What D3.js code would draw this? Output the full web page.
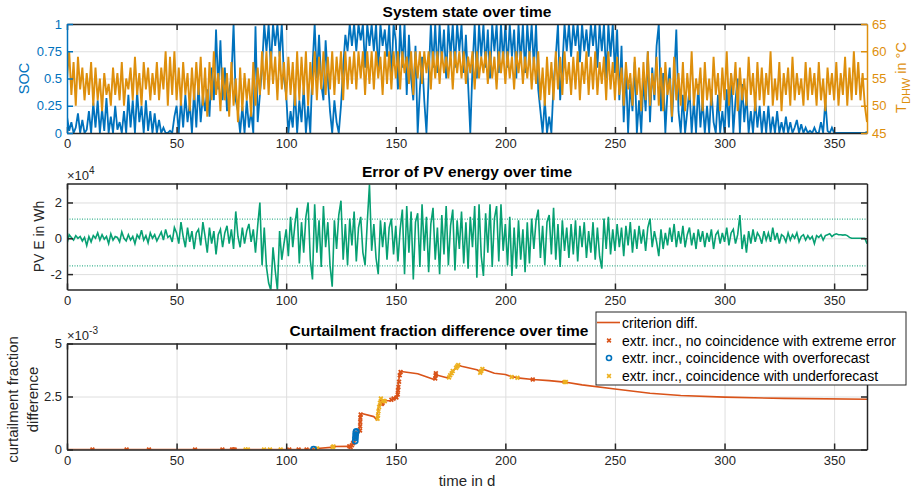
<!DOCTYPE html>
<html>
<head>
<meta charset="utf-8">
<script src="https://cdn.jsdelivr.net/npm/d3@7"></script>
<style>
  body { margin: 0; background: #fff; }
  svg { font-family: "Liberation Sans", Arial, sans-serif; }
</style>
</head>
<body>
<svg id="chart" width="918" height="493"></svg>
<script>
// daily samples, day 0..365
const socValues = [
  0.15,0.02,0.1,0,0.05,0.18,0,0.12,0,0.03,
  0.2,0,0.28,0.05,0.3,0,0.22,0.02,0.32,0,
  0.15,0,0.25,0.03,0.1,0,0.2,0,0.35,0.05,
  0.3,0,0.38,0.1,0.25,0,0.3,0.02,0.2,0,
  0.18,0,0.12,0,0.05,0,0,0.02,0,0.15,
  0.25,0,0.3,0.05,0.35,0.1,0.28,0,0.4,0.05,
  0.45,0.1,0.35,0.2,0.4,0.15,0.6,0.3,0.95,0.4,
  0.85,0.3,0.6,0.2,0.4,0.5,1,0.3,0.2,0,
  0.25,0,0.3,0.05,0.2,0,0.98,0.1,0.35,0.6,
  1,0.75,1,0.6,1,0.8,1,0.7,1,0.5,
  0.35,0,0.2,0.05,0.4,0,0.3,0.1,0.42,0,
  0.25,0,0.6,1,0.5,0.9,0.45,0.3,0.85,0.5,
  0.2,0,0.3,0.1,0,0.25,0.6,0.9,0.75,1,
  0.8,1,0.75,1,0.85,1,0.6,1,0.8,1,
  0.75,1,0.55,1,0.8,0.95,0.7,1,0.5,1,
  0.85,0.4,1,0.6,1,0.35,0.9,0.5,0.3,0.8,
  0,0.4,0.7,0.3,0,0.5,1,0.6,1,0.55,
  1,0.65,0.95,0.5,1,0.7,1,0.6,1,0.75,
  1,0.55,0.9,0.45,0,0.6,1,0.5,1,0.7,
  1,0.6,0.95,0.5,1,0.75,1,0.55,1,0.65,
  1,0.6,1,0.7,0.95,0.5,1,0.65,1,0.55,
  1,0.7,1,0.6,1,0.4,0.2,0,0.3,0,
  0.15,0,0.45,0.7,1,0.3,0.6,1,0.75,1,
  0.7,1,0.8,1,0.65,1,0.75,0.95,0.7,1,
  0.8,1,0.6,1,0.75,1,0.5,1,0.7,1,
  0.55,0.95,0.3,0.8,0.1,0.6,0,0.45,0.2,0.65,
  0,0.3,0,0.5,0.2,0.75,0.1,0.6,0.3,0.8,
  1,0.2,0.55,0,0.4,0.6,0.1,0.5,0.95,0.2,
  0,0.35,0,0.2,0.4,0,0.3,0,0.45,0.05,
  0.3,0,0.25,0,0.4,0.1,0,0.35,0,0.2,
  0,0.4,0.05,0.55,0,0.3,0.5,0,0.45,0.1,
  0.35,0,0.2,0,0.3,0.05,0.25,0,0.2,0,
  0.25,0,0.15,0,0.2,0,0.1,0,0.15,0,
  0.1,0,0.05,0.12,0,0.08,0,0.05,0,0.02,
  0,0.05,0,0,0.1,0,0.3,0.02,0,0.05,
  0,0,0,0,0,0,0,0,0,0,
  0,0,0,0,0,0.01
];

const tdhwValues = [
  55,60,52,58,50,59,53,57,51,56,
  52,58,50,57,51,55,49,56,52,54,
  50,57,52,56,51,58,50,55,53,57,
  51,59,52,56,50,58,53,57,51,56,
  52,58,51,57,53,60,50,59,52,60,
  51,57,50,58,52,56,49,57,51,58,
  52,59,50,57,48,58,51,60,52,56,
  49,57,51,56,48,58,50,55,47,57,
  49,56,51,55,48,58,50,57,52,60,
  53,60,52,60,54,59,51,60,53,58,
  51,59,52,58,50,60,51,59,52,60,
  50,58,52,60,51,59,53,60,52,59,
  53,60,52,59,54,60,51,60,53,59,
  54,60,53,60,55,60,52,60,54,60,
  53,60,55,59,52,60,54,60,53,60,
  55,60,53,60,56,59,54,60,52,60,
  55,60,54,60,56,60,53,60,55,60,
  54,60,56,59,55,60,53,60,56,60,
  55,60,54,59,56,60,53,60,55,59,
  56,60,54,60,55,59,53,60,56,60,
  54,60,55,59,53,60,56,60,54,59,
  55,60,53,59,54,60,51,57,50,59,
  52,58,51,60,53,59,52,60,54,58,
  52,59,53,60,51,58,54,60,52,59,
  53,60,52,58,54,59,51,60,53,58,
  51,59,52,57,50,58,53,56,50,59,
  52,57,49,58,51,60,50,56,52,59,
  50,57,49,58,52,55,48,59,51,56,
  50,58,49,56,51,60,50,55,52,57,
  49,58,51,55,50,59,52,56,49,57,
  51,60,50,56,52,58,49,57,51,55,
  50,59,52,56,49,58,51,57,50,56,
  52,60,50,55,51,58,49,56,52,57,
  50,59,51,56,52,55,50,58,51,57,
  52,56,50,58,51,55,49,57,52,56,
  51,58,50,56,52,59,50,57,51,60,
  52,58,51,56,50,47
];

// PV energy error in units of 1e4 Wh
const pvErrorValues = [
  -0.3,0.2,0.05,-0.1,0.15,0,0.1,-0.15,0.05,-0.4,
  0.1,-0.2,0.15,0,0.3,-0.1,0.2,-0.05,0.1,-0.3,
  0.25,-0.1,0.1,0.05,-0.2,0.35,0,-0.15,0.2,-0.1,
  0.1,-0.3,0.2,0,0.45,-0.1,0.15,-0.25,0.3,0,
  0.2,-0.15,0.1,0.35,-0.1,0.5,0.05,0.15,-0.2,0.6,
  0.3,-0.3,0.9,0.1,-0.5,0.6,-0.2,0.4,-0.6,0.3,
  0.5,-0.4,0.9,0.1,-0.8,0.6,-0.3,0.4,-0.9,0.2,
  0.5,-0.5,0.3,0.7,-0.3,0.5,-0.6,1.5,0.1,-0.5,
  0.6,-0.3,0.4,0.8,-0.2,0.5,-0.8,0.7,2.0,-1.5,
  0.6,-1.6,-2.5,-2.9,-0.5,-1.8,-2.9,0.4,-1.2,-0.3,
  0.5,-1.0,1.2,-0.5,0.8,1.7,-1.4,0.9,-0.8,1.2,
  2.0,-1.2,-2.3,1.9,-0.8,1.0,-1.6,1.8,-0.5,0.9,
  -1.5,-2.7,1.0,-0.6,1.3,2.1,-1.2,0.8,-1.5,1.1,
  -0.4,1.5,-1.3,0.6,1.2,-0.8,-1.5,0.9,3.0,-0.7,
  0.8,-1.1,-2.0,1.0,-0.5,0.9,-1.2,0.6,1.1,-0.9,
  0.7,-1.3,0.5,1.6,-2.0,1.8,-0.8,1.5,-2.3,0.9,
  1.4,-1.6,1.9,-0.7,1.2,-1.9,0.8,1.7,-1.2,0.6,
  -2.0,1.3,-0.9,1.8,-1.5,0.7,1.6,-1.8,1.0,-0.6,
  1.5,-1.4,0.9,-1.7,1.2,-0.5,1.8,-2.2,1.9,-1.0,
  -2.1,1.4,-0.8,1.9,-1.6,1.1,1.8,-1.3,1.9,-0.7,
  0.8,-1.5,1.2,-2.1,0.6,-1.7,1.0,-1.2,0.5,-1.9,
  0.9,-1.4,1.1,-0.6,1.0,1.6,-1.1,0.7,-1.5,0.9,
  1.3,-0.9,1.7,-1.2,0.8,-1.6,1.0,-0.7,0.6,-1.1,
  0.8,-0.9,1.0,-1.3,0.7,-0.5,0.9,-1.1,0.4,-0.8,
  0.9,-1.2,0.6,-1.0,-1.7,1.1,-0.6,1.2,-0.9,0.5,
  -0.7,0.8,-0.5,0.6,-1.0,0.7,-0.4,0.9,-0.8,0.5,
  -0.6,0.7,-0.3,0.5,-0.7,0.6,1.1,-0.5,0.4,-0.2,
  -1.0,0.5,-0.6,0.3,-0.4,0.6,-0.2,0.8,-0.5,0.4,
  -0.3,0.7,-0.5,0.2,0.6,-0.4,0.3,-0.6,0.5,-0.2,
  0.4,-0.5,0.3,-0.2,0.5,-0.6,0.2,0.4,-0.3,0.3,
  -0.2,0.6,-0.4,0.3,0.5,-0.3,0.2,1.3,-0.6,0.2,
  -0.8,0.4,-0.3,0.5,-0.2,0.3,0.1,-0.3,0.4,-0.1,
  0.3,-0.2,0.6,-0.1,0.3,-0.3,0.2,0.1,-0.2,0.3,
  -0.1,0.2,0,0.3,-0.2,0.1,0.2,-0.1,0.15,-0.05,
  0.1,-0.3,0.15,0.05,0.2,-0.1,0.15,0.2,0.25,0.1,
  0.2,0.25,0.2,0.2,0.18,0.2,0.15,0.05,0,0,
  0,0,0,0,0,-0.3
];
const pvThresholds = [1.07, -1.54];

// curtailment fraction difference, units of 1e-3
const critDays = [0,110,112.5,114,120.5,121.2,128.5,129,130.5,131.3,131.8,132.6,133.4,133.8,134.5,140,141.4,141.9,143.2,143.6,144.5,147.5,150.5,151,151.8,152.5,160,167.5,168.2,169,173.8,175,176,177.5,178.5,180,187,189,189.6,195,200,202.5,205.5,212.5,220,227,235,250,266,280,300,327,365];
const critValues = [0,0,0.03,0.05,0.1,0.14,0.15,0.1,0.3,0.35,0.85,0.75,0.8,1.6,1.7,1.55,1.4,1.9,2.4,2.15,2.3,2.3,2.45,2.95,3.6,3.68,3.57,3.3,3.6,3.5,3.37,3.55,3.7,3.85,3.98,3.93,3.76,3.66,3.8,3.6,3.54,3.45,3.38,3.3,3.25,3.18,3.05,2.85,2.65,2.55,2.47,2.41,2.37];

const noCoincidenceDays = [11.6,27.2,37.4,58.4,70.9,75.3,75.9,76.5,101.4,105.7,109.3,128.8,129.4,130,130.5,133.7,133.75,133.8,133.85,134,143.6,144,148,149,150.3,150.9,151,151.2,151.5,151.8,152.2,168,168.2,168.3,212.5];
const noCoincidenceValues = [0,0,0,0,0,0,0,0,0,0,0,0.15,0.12,0.2,0.3,0.9,1.1,1.3,1.5,1.65,2.15,2.2,2.35,2.4,2.45,2.6,2.8,2.95,3.2,3.5,3.65,3.35,3.5,3.6,3.3];
const overDays = [112.5,131.5,131.6,131.7,131.8,132];
const overValues = [0.02,0.4,0.55,0.7,0.82,0.85];
const underDays = [81.5,82.5,89.9,92.6,97.5,113.5,114.2,121.2,121.6,141.7,141.9,142.1,142.4,142.8,143.2,144.5,145,174.3,174.8,175.5,176,177.5,178,178.5,188.5,189,189.5,202.9,205.5,227,227.6];
const underValues = [0,0,0,0,0,0.04,0.05,0.12,0.14,1.45,1.6,1.8,2.0,2.2,2.4,2.3,2.28,3.4,3.5,3.6,3.7,3.85,3.92,3.98,3.62,3.7,3.8,3.42,3.38,3.18,3.18];

const xTicks = [0, 50, 100, 150, 200, 250, 300, 350];
const socTicks = [0, 0.25, 0.5, 0.75, 1];
const tdhwTicks = [45, 50, 55, 60, 65];
const pvTicks = [-2, 0, 2];
const critTicks = [0, 2.5, 5];

const legendLabels = [
  'criterion diff.',
  'extr. incr., no coincidence with extreme error',
  'extr. incr., coincidence with overforecast',
  'extr. incr., coincidence with underforecast',
];

const BLUE = '#0072BD', ORANGE = '#DE8F0C', GREEN = '#07A073',
      RED = '#D95319', YELLOW = '#EDB120', INK = '#262626', GRID = '#dedede';

const svg = d3.select('#chart');
const x = d3.scaleLinear().domain([0, 365]).range([67, 867]);
const days = d3.range(0, 366);

const panels = [
  { top: 24, bottom: 133 },
  { top: 183.5, bottom: 289.5 },
  { top: 343.5, bottom: 449.5 },
];

const ySoc = d3.scaleLinear().domain([0, 1]).range([panels[0].bottom, panels[0].top]);
const yTdhw = d3.scaleLinear().domain([45, 65]).range([panels[0].bottom, panels[0].top]);
const yPv = d3.scaleLinear().domain([-2.86, 3.06]).range([panels[1].bottom, panels[1].top]);
const yCrit = d3.scaleLinear().domain([0, 5]).range([panels[2].bottom, panels[2].top]);

const TICK_FONT = 13;

// grid lines behind data
function drawGrid(p, y, yTicks) {
  const h = p.bottom - p.top;
  const gx = svg.append('g')
    .attr('transform', `translate(0,${p.bottom})`)
    .call(d3.axisBottom(x).tickValues(xTicks).tickSize(-h).tickFormat(''));
  const gy = svg.append('g')
    .attr('transform', `translate(${x(0)},0)`)
    .call(d3.axisLeft(y).tickValues(yTicks).tickSize(-800).tickFormat(''));
  [gx, gy].forEach(g => {
    g.select('.domain').remove();
    g.selectAll('.tick line').attr('stroke', GRID).attr('stroke-width', 1);
  });
}

function styleAxis(g, color) {
  g.select('.domain').attr('stroke', color).attr('stroke-width', 1.5);
  g.selectAll('.tick line').attr('stroke', color).attr('stroke-width', 1.5);
  g.selectAll('.tick text').attr('fill', color).attr('font-size', TICK_FONT)
    .attr('font-family', '"Liberation Sans", Arial, sans-serif');
}

function drawFrame(p, y, yTicks, fmt, leftColor, right) {
  const gb = svg.append('g').attr('transform', `translate(0,${p.bottom})`)
    .call(d3.axisBottom(x).tickValues(xTicks).tickSize(-6).tickSizeOuter(0).tickPadding(6));
  styleAxis(gb, INK);
  const gt = svg.append('g').attr('transform', `translate(0,${p.top})`)
    .call(d3.axisTop(x).tickValues(xTicks).tickSize(-6).tickSizeOuter(0).tickFormat(''));
  styleAxis(gt, INK);
  const gl = svg.append('g').attr('transform', `translate(${x(0)},0)`)
    .call(d3.axisLeft(y).tickValues(yTicks).tickSize(-6).tickSizeOuter(0).tickPadding(5).tickFormat(fmt));
  styleAxis(gl, leftColor);
  if (right) {
    const gr = svg.append('g').attr('transform', `translate(${x(365)},0)`)
      .call(d3.axisRight(right.scale).tickValues(right.ticks).tickSize(-6).tickSizeOuter(0).tickPadding(5));
    styleAxis(gr, right.color);
  } else {
    const gr = svg.append('g').attr('transform', `translate(${x(365)},0)`)
      .call(d3.axisRight(y).tickValues(yTicks).tickSize(-6).tickSizeOuter(0).tickFormat(''));
    styleAxis(gr, INK);
  }
}

function clipFor(id, p) {
  svg.append('clipPath').attr('id', id).append('rect')
    .attr('x', x(0)).attr('y', p.top).attr('width', x(365) - x(0)).attr('height', p.bottom - p.top);
  return `url(#${id})`;
}

function title(text, cx, baseline) {
  svg.append('text').attr('x', cx).attr('y', baseline).attr('text-anchor', 'middle')
    .attr('font-size', 15.5).attr('font-weight', 'bold').attr('fill', '#000').text(text);
}

function exponent(base, exp, yBase) {
  const t = svg.append('text').attr('x', x(0)).attr('y', yBase).attr('font-size', TICK_FONT).attr('fill', INK);
  t.append('tspan').text('\u00d7' + base);
  t.append('tspan').attr('dy', -6).attr('font-size', 10).text(exp);
}

const fmtPlain = d => String(d);

// ---------- panel 1: system state ----------
const p1 = panels[0];
drawGrid(p1, ySoc, socTicks);
const clip1 = clipFor('clip1', p1);
svg.append('path').datum(days)
  .attr('clip-path', clip1).attr('fill', 'none').attr('stroke', BLUE).attr('stroke-width', 1.8)
  .attr('d', d3.line().x(d => x(d)).y(d => ySoc(socValues[d])));
svg.append('path').datum(days)
  .attr('clip-path', clip1).attr('fill', 'none').attr('stroke', ORANGE).attr('stroke-width', 1.9)
  .attr('d', d3.line().x(d => x(d)).y(d => yTdhw(tdhwValues[d])));
drawFrame(p1, ySoc, socTicks, fmtPlain, BLUE, { scale: yTdhw, ticks: tdhwTicks, color: ORANGE });
title('System state over time', 467, 17);
svg.append('text').attr('transform', `translate(29,${(p1.top + p1.bottom) / 2}) rotate(-90)`)
  .attr('text-anchor', 'middle').attr('font-size', 14.5).attr('fill', BLUE).text('SOC');
const tl = svg.append('text').attr('transform', `translate(906,${(p1.top + p1.bottom) / 2 - 1}) rotate(-90)`)
  .attr('text-anchor', 'middle').attr('font-size', 14.5).attr('fill', ORANGE);
tl.append('tspan').text('T');
tl.append('tspan').attr('dy', 4).attr('font-size', 11).text('DHW');
tl.append('tspan').attr('dy', -4).text(' in \u00b0C');

// ---------- panel 2: PV error ----------
const p2 = panels[1];
drawGrid(p2, yPv, pvTicks);
const clip2 = clipFor('clip2', p2);
svg.append('g').selectAll('line.thr').data(pvThresholds).join('line')
  .attr('x1', x(0)).attr('x2', x(365)).attr('y1', d => yPv(d)).attr('y2', d => yPv(d))
  .attr('stroke', GREEN).attr('stroke-opacity', 0.8).attr('stroke-width', 1.2).attr('stroke-dasharray', '1,1.5');
svg.append('path').datum(days)
  .attr('clip-path', clip2).attr('fill', 'none').attr('stroke', GREEN).attr('stroke-width', 1.6)
  .attr('d', d3.line().x(d => x(d)).y(d => yPv(pvErrorValues[d])));
drawFrame(p2, yPv, pvTicks, fmtPlain, INK, null);
title('Error of PV energy over time', 467, 176.5);
exponent('10', '4', 180);
svg.append('text').attr('transform', `translate(44,${(p2.top + p2.bottom) / 2}) rotate(-90)`)
  .attr('text-anchor', 'middle').attr('font-size', 14).attr('fill', INK).text('PV E in Wh');

// ---------- panel 3: curtailment ----------
const p3 = panels[2];
drawGrid(p3, yCrit, critTicks);
const clip3 = clipFor('clip3', p3);
svg.append('path').datum(critDays)
  .attr('clip-path', clip3).attr('fill', 'none').attr('stroke', RED).attr('stroke-width', 1.6)
  .attr('stroke-linejoin', 'round')
  .attr('d', d3.line().x(d => x(d)).y((d, i) => yCrit(critValues[i])));

const xMark = d3.symbol().type(d3.symbolX).size(11);
const oMark = d3.symbol().type(d3.symbolCircle).size(20);
const markerSets = [
  { days: noCoincidenceDays, vals: noCoincidenceValues, sym: xMark, color: RED },
  { days: underDays, vals: underValues, sym: xMark, color: YELLOW },
  { days: overDays, vals: overValues, sym: oMark, color: BLUE },
];
markerSets.forEach(s => {
  svg.append('g').attr('clip-path', clip3).selectAll('path').data(s.days).join('path')
    .attr('transform', (d, i) => `translate(${x(d)},${yCrit(s.vals[i])})`)
    .attr('d', s.sym).attr('fill', 'none').attr('stroke', s.color).attr('stroke-width', 1.8);
});
drawFrame(p3, yCrit, critTicks, fmtPlain, INK, null);
title('Curtailment fraction difference over time', 439, 335.5);
exponent('10', '-3', 340);
const yl3 = svg.append('text').attr('transform', `translate(0,${(p3.top + p3.bottom) / 2 + 3}) rotate(-90)`)
  .attr('text-anchor', 'middle').attr('font-size', 15).attr('fill', INK);
yl3.append('tspan').attr('x', 0).attr('y', 18).text('curtailment fraction');
yl3.append('tspan').attr('x', 0).attr('y', 38).text('difference');
svg.append('text').attr('x', 467).attr('y', 486).attr('text-anchor', 'middle')
  .attr('font-size', 15).attr('fill', INK).text('time in d');

// ---------- legend ----------
const lg = svg.append('g').attr('transform', 'translate(596,312)');
lg.append('rect').attr('width', 310).attr('height', 73).attr('fill', '#fff')
  .attr('stroke', INK).attr('stroke-width', 1);
const rowY = [10.5, 28.5, 46, 64];
lg.append('line').attr('x1', 1).attr('x2', 24).attr('y1', rowY[0]).attr('y2', rowY[0])
  .attr('stroke', RED).attr('stroke-width', 1.6);
const legendMarks = [
  { sym: xMark, color: RED },
  { sym: oMark, color: BLUE },
  { sym: xMark, color: YELLOW },
];
legendMarks.forEach((m, i) => {
  lg.append('path').attr('transform', `translate(13,${rowY[i + 1]})`)
    .attr('d', m.sym).attr('fill', 'none').attr('stroke', m.color).attr('stroke-width', 1.6);
});
lg.selectAll('text').data(legendLabels).join('text')
  .attr('x', 26).attr('y', (d, i) => rowY[i] + 5)
  .attr('font-size', 14).attr('fill', '#000').text(d => d);
</script>
</body>
</html>
